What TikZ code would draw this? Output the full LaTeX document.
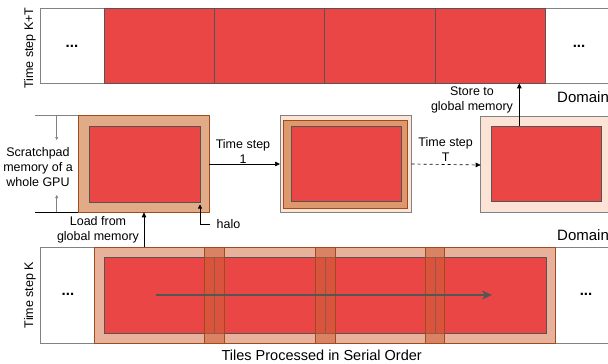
\documentclass[tikz,border=0pt]{standalone}
\usepackage{fontspec}
\setmainfont{Liberation Sans}
\usetikzlibrary{arrows.meta}
\definecolor{cred}{RGB}{234,70,70}
\definecolor{credb}{RGB}{92,82,82}
\definecolor{ctan}{RGB}{225,171,136}
\definecolor{cbrown}{RGB}{160,75,30}
\definecolor{cpeach}{RGB}{251,227,214}
\definecolor{cring}{RGB}{221,152,108}
\definecolor{csalmon}{RGB}{232,177,156}
\definecolor{cband}{RGB}{205,95,55}
\definecolor{cgrayb}{RGB}{130,130,130}
\definecolor{carrow}{RGB}{85,85,85}
\tikzset{
  rect/.style={inner sep=0pt, outer sep=0pt, anchor=north west, line width=0.8pt},
  redbox/.style={rect, draw=credb, fill=cred},
  whitebox/.style={rect, draw=cgrayb, fill=white},
  tanbox/.style={rect, draw=cbrown, fill=ctan},
  peachbox/.style={rect, draw=cgrayb, fill=cpeach},
  ringbox/.style={rect, draw=cbrown, fill=cring},
  salmonbox/.style={rect, draw=cbrown, fill=csalmon},
  bandbox/.style={rect, draw=cbrown, fill=cband, fill opacity=0.55},
  lbl/.style={font=\fontsize{12.5}{15}\selectfont, align=center, inner sep=0pt},
  biglbl/.style={font=\fontsize{15}{18}\selectfont, inner sep=0pt},
  dots/.style={font=\fontsize{15}{18}\selectfont\bfseries, inner sep=0pt},
  tip/.style={line width=0.7pt, -{Triangle[length=5pt,width=4.5pt]}},
  smalltip/.style={line width=0.5pt, draw=cgrayb, -{Triangle[length=3pt,width=3pt]}},
  serial/.style={line width=2.2pt, draw=carrow, -{Stealth[length=10pt,width=9pt,inset=3pt]}}
}
\newcommand\bx[6]{\node[#2, minimum width={(#5)-(#3)}, minimum height={(#6)-(#4)}] (#1) at (#3,#4) {};}
\begin{document}
\begin{tikzpicture}[x=1pt, y=-1pt]
\useasboundingbox (0,0) rectangle (608,364);
% ---------- top strip ----------
\bx{top}{whitebox}{40}{8.3}{615}{83.3}
\bx{t1}{redbox}{104}{8.3}{214.4}{83.3}
\bx{t2}{redbox}{214.4}{8.3}{324.8}{83.3}
\bx{t3}{redbox}{324.8}{8.3}{435.2}{83.3}
\bx{t4}{redbox}{435.2}{8.3}{545.6}{83.3}
\draw[credb, line width=0.8pt] (t3.north east) -- (t3.south east);
\node[dots] (tdl) at (72,46) {...};
\node[dots] (tdr) at (579,46) {...};
\node[lbl, rotate=90] (tlab) at (30,48) {Time step K+T};
\node[biglbl, anchor=west] (dom1) at (557,97) {Domain};
% ---------- middle row ----------
\bx{b1}{tanbox}{78.3}{115.7}{209.3}{212.3}
\bx{b1r}{redbox}{89}{126}{200}{202.3}
\bx{b2}{peachbox}{280}{115.7}{411.7}{212.3}
\bx{b2o}{ringbox}{283.3}{120}{407.3}{208.3}
\bx{b2r}{redbox}{291}{126}{401.7}{201.7}
\bx{b3}{peachbox}{480.7}{116}{615}{212.3}
\bx{b3r}{redbox}{491.7}{126}{601.7}{201.7}
\coordinate (b3w) at (480.7,165);
\draw[tip] (b1.east) -- (b2.west);
\node[lbl] (ts1) at (243,151) {Time step\\1};
\draw[tip, dashed] (b2.east) -- (b3w);
\node[lbl] (tsT) at (445.7,149.5) {Time step\\T};
% store
\coordinate (sx) at (519.3,0);
\draw[tip] (b3r.north -| sx) -- (top.south -| sx);
\node[lbl] (store) at (472,99.5) {Store to\\global memory};
% scratchpad dimension
\coordinate (d1) at (35,115.7);
\coordinate (d2) at (35,212.3);
\draw[cgrayb, line width=0.7pt] (d1) -- (b1.north west);
\draw[black, line width=0.7pt] (d2) -- (b1.south west);
\coordinate (da1) at (56.7,115.7);
\coordinate (da2) at (56.7,140);
\coordinate (da3) at (56.7,212.3);
\coordinate (da4) at (56.7,195);
\draw[smalltip] (da1) -- (da2);
\draw[smalltip] (da3) -- (da4);
\node[lbl] (scr) at (38,167) {Scratchpad\\memory of a\\whole GPU};
% halo
\node[lbl, anchor=west] (halo) at (216.5,224.5) {halo};
\coordinate (hs) at (209.5,224);
\coordinate (hp) at (200,204.5);
\draw[line width=0.6pt, -{Triangle[length=4pt,width=4pt]}] (hs) -| (hp);
% ---------- bottom strip ----------
\bx{bot}{whitebox}{40}{247.3}{615}{343.3}
\bx{bs}{salmonbox}{94.3}{247.3}{555.7}{343.3}
\bx{br}{redbox}{104}{257.7}{546}{333.3}
\bx{h1}{bandbox}{204.3}{247.3}{224.3}{343.3}
\bx{h2}{bandbox}{315}{247.3}{335}{343.3}
\bx{h3}{bandbox}{425.7}{247.3}{444.3}{343.3}
\foreach \xx/\nm in {214.3/l1, 325/l2, 435/l3}{
  \coordinate (\nm a) at (\xx,257.7);
  \coordinate (\nm b) at (\xx,333.3);
  \draw[line width=0.6pt, draw={rgb,255:red,150;green,85;blue,70}] (\nm a) -- (\nm b);
}
\coordinate (sa) at (156,295);
\coordinate (sb) at (492,295);
\draw[serial] (sa) -- (sb);
\node[dots] (bdl) at (68,294) {...};
\node[dots] (bdr) at (586,294) {...};
\node[lbl, rotate=90] (blab) at (30,295) {Time step K};
\node[biglbl, anchor=west] (dom2) at (557,235) {Domain};
\node[lbl, font=\fontsize{14.5}{16}\selectfont] (tiles) at (321.7,355) {Tiles Processed in Serial Order};
% load
\coordinate (lx) at (144,0);
\draw[tip] (bot.north -| lx) -- (b1.south -| lx);
\node[lbl] (load) at (98,229.5) {Load from\\global memory};
\end{tikzpicture}
\end{document}
